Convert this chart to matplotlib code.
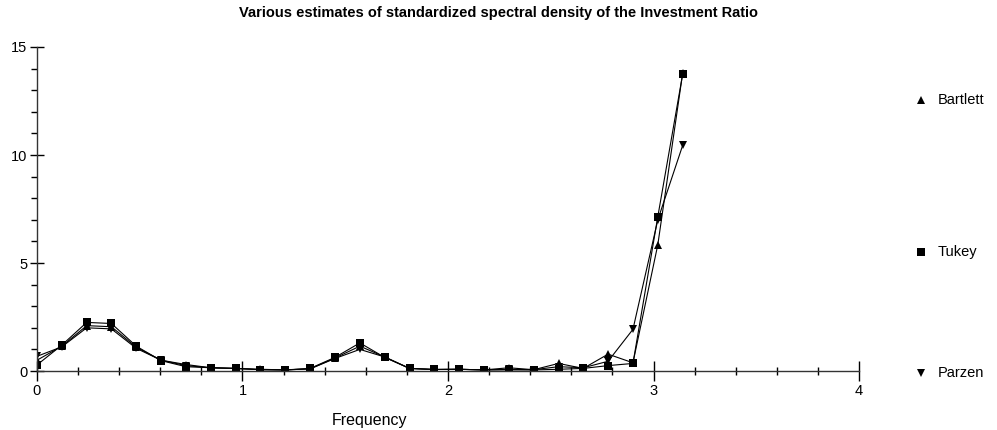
import numpy as np
import matplotlib
matplotlib.use("Agg")
import matplotlib.pyplot as plt
from matplotlib.ticker import MultipleLocator

plt.rcParams['font.family'] = ['Liberation Sans', 'DejaVu Sans']

# frekuensi: k*pi/26, k = 0..26
frekuensi = [0.000, 0.121, 0.242, 0.362, 0.483, 0.604, 0.725, 0.846, 0.967,
             1.087, 1.208, 1.329, 1.450, 1.571, 1.692, 1.813, 1.933, 2.054,
             2.175, 2.296, 2.417, 2.538, 2.658, 2.779, 2.900, 3.021, 3.142]

bartlett = [0.50, 1.15, 2.10, 2.05, 1.10, 0.50, 0.30, 0.15, 0.12, 0.08, 0.05,
            0.10, 0.60, 1.15, 0.65, 0.12, 0.07, 0.08, 0.05, 0.15, 0.06, 0.35,
            0.12, 0.78, 0.38, 5.85, 13.80]
tukey = [0.28, 1.20, 2.25, 2.20, 1.15, 0.48, 0.20, 0.15, 0.12, 0.06, 0.05,
         0.12, 0.63, 1.30, 0.63, 0.12, 0.07, 0.08, 0.05, 0.05, 0.05, 0.08,
         0.12, 0.25, 0.35, 7.15, 13.75]
parzen = [0.68, 1.12, 2.00, 1.95, 1.05, 0.50, 0.25, 0.15, 0.12, 0.06, 0.05,
          0.10, 0.58, 1.00, 0.65, 0.12, 0.07, 0.08, 0.05, 0.08, 0.06, 0.20,
          0.15, 0.45, 1.93, 7.00, 10.45]

seri = [("Bartlett", bartlett, "^"), ("Tukey", tukey, "s"), ("Parzen", parzen, "v")]

fig = plt.figure(figsize=(9.97, 4.30), dpi=100)
ax = fig.add_axes([0.0371, 0.1372, 0.8245, 0.7535])

for nama, nilai, mk in seri:
    ax.plot(frekuensi, nilai, color="black", lw=0.8, marker=mk,
            markersize=6 if mk == "s" else 5.5, markeredgewidth=0)

ax.set_xlim(0, 4)
ax.set_ylim(0, 15)
ax.xaxis.set_major_locator(MultipleLocator(1))
ax.xaxis.set_minor_locator(MultipleLocator(0.2))
ax.yaxis.set_major_locator(MultipleLocator(5))
ax.yaxis.set_minor_locator(MultipleLocator(1))
ax.tick_params(axis="x", which="major", direction="inout", length=14, width=1, labelsize=10.5, pad=2)
ax.tick_params(axis="x", which="minor", direction="inout", length=6, width=1)
ax.tick_params(axis="y", which="major", direction="inout", length=10, width=1, labelsize=10.5, pad=2)
ax.tick_params(axis="y", which="minor", direction="out", length=4, width=1)
ax.spines["top"].set_visible(False)
ax.spines["right"].set_visible(False)
for s in ["left", "bottom"]:
    ax.spines[s].set_linewidth(1)
    ax.spines[s].set_color("#333333")

# label sumbu x (di referensi agak ke kiri dari tengah)
fig.text(369 / 997, 1 - 420 / 430, "Frequency", fontsize=11.5, ha="center", va="center")

fig.suptitle("Various estimates of standardized spectral density of the Investment Ratio",
             fontsize=10.5, fontweight="bold", x=0.5, y=0.985)

# legenda manual di kanan
posisi_y = [100, 252, 373]
for (nama, nilai, mk), py in zip(seri, posisi_y):
    yf = 1 - py / 430
    fig.lines.append(plt.Line2D([921 / 997], [yf], transform=fig.transFigure,
                                marker=mk, color="black", markersize=5.5, markeredgewidth=0))
    fig.text(938 / 997, yf, nama, fontsize=10.5, va="center", ha="left")

fig.savefig("out.png", dpi=100)
